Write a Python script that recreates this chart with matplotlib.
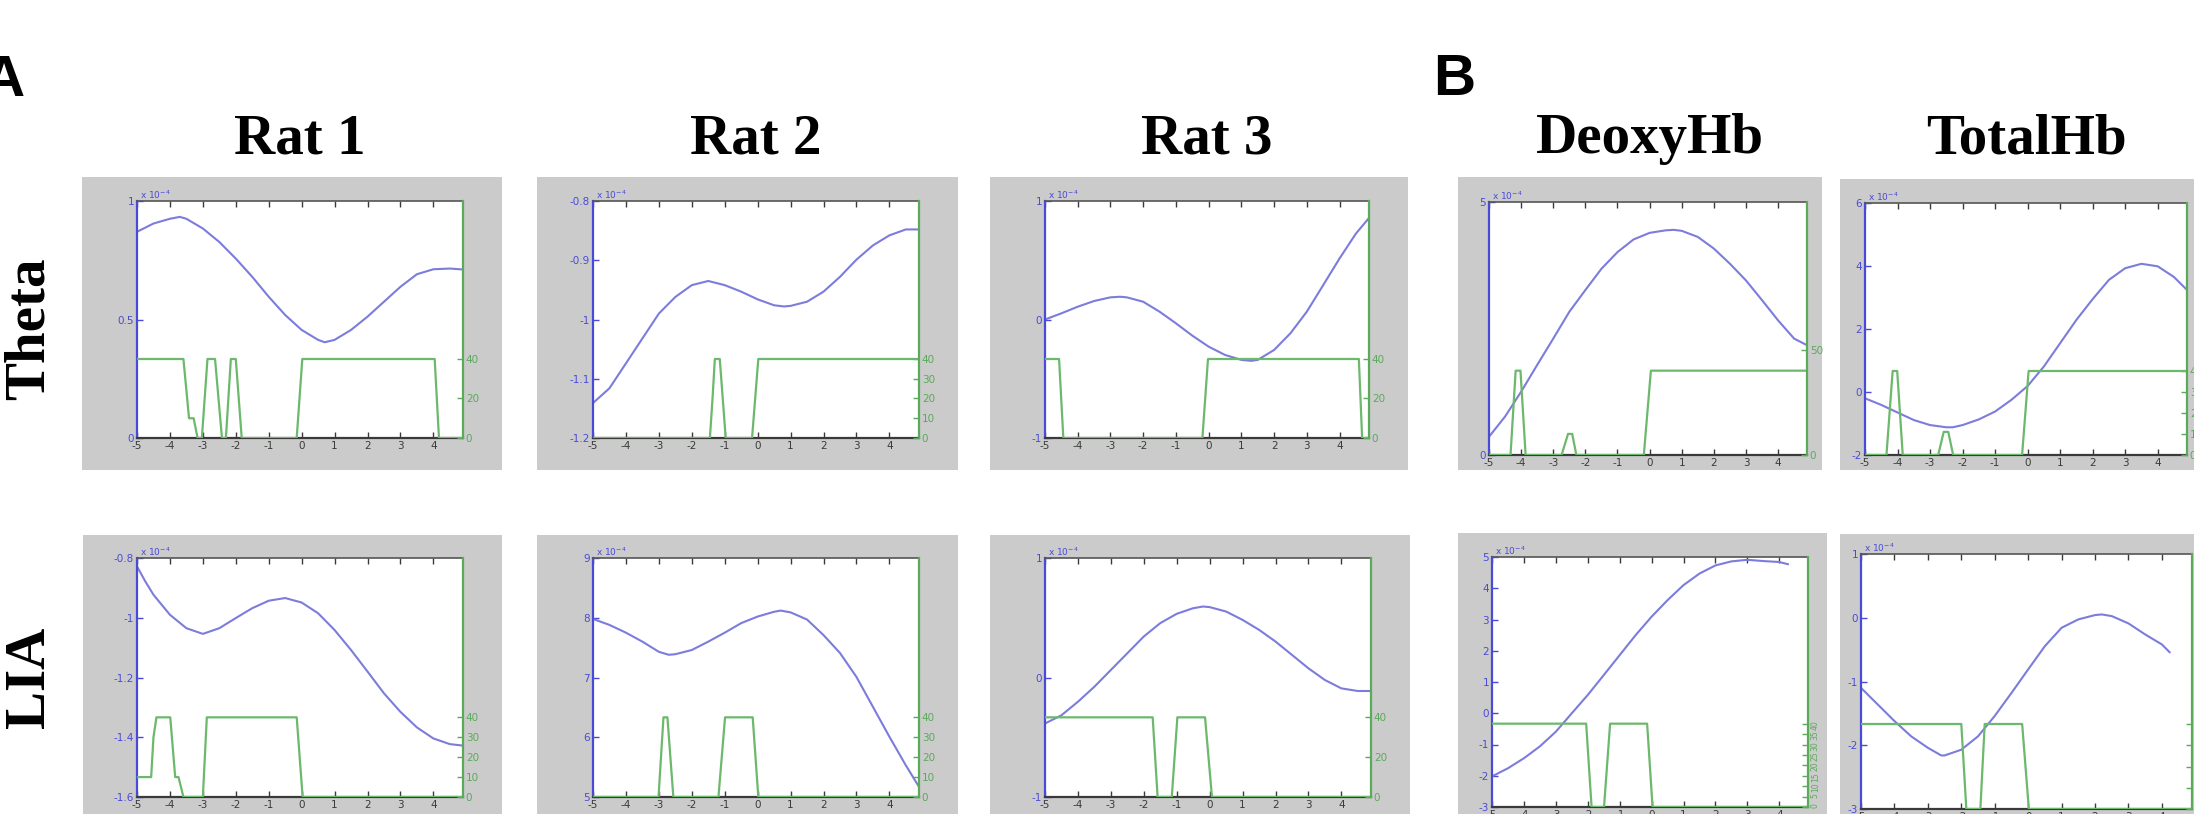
import matplotlib
matplotlib.use('Agg')
import matplotlib.pyplot as plt
from matplotlib.patches import Rectangle

plt.rcParams['axes.unicode_minus'] = False

W, H = 2194, 814

# ---- data (x in s, blue = left axis, green = right axis) ----
# Theta row
rat1_theta_x = [-5, -4.5, -4, -3.7, -3.5, -3, -2.5, -2, -1.5, -1, -0.5, 0, 0.5, 0.7, 1, 1.5, 2, 2.5, 3, 3.5, 4, 4.5, 4.9]
rat1_theta_y = [0.87, 0.905, 0.925, 0.933, 0.925, 0.884, 0.827, 0.757, 0.68, 0.596, 0.519, 0.456, 0.414, 0.404, 0.414,
                0.456, 0.512, 0.575, 0.638, 0.691, 0.712, 0.715, 0.711]
rat1_theta_gx = [-5, -3.59, -3.42, -3.28, -3.16, -3.03, -2.86, -2.63, -2.42, -2.3, -2.15, -2.0, -1.82, -0.15, 0.02, 4.04, 4.17, 4.9]
rat1_theta_gy = [40, 40, 10, 10, 0, 0, 40, 40, 0, 0, 40, 40, 0, 0, 40, 40, 0, 0]

rat2_theta_x = [-5, -4.5, -4, -3.5, -3, -2.5, -2, -1.5, -1, -0.5, 0, 0.5, 0.8, 1, 1.5, 2, 2.5, 3, 3.5, 4, 4.5, 4.9]
rat2_theta_y = [-1.141, -1.116, -1.074, -1.032, -0.990, -0.962, -0.942, -0.935, -0.942, -0.953, -0.966, -0.976, -0.978,
                -0.977, -0.970, -0.953, -0.928, -0.899, -0.875, -0.858, -0.848, -0.848]
rat2_theta_gx = [-5, -1.45, -1.37, -1.3, -1.15, -0.97, -0.17, 0.02, 4.9]
rat2_theta_gy = [0, 0, 20, 40, 40, 0, 0, 40, 40]

rat3_theta_x = [-5, -4.5, -4, -3.5, -3, -2.7, -2.5, -2, -1.5, -1, -0.5, 0, 0.5, 1, 1.3, 1.5, 2, 2.5, 3, 3.5, 4, 4.5, 4.9]
rat3_theta_y = [0.0, 0.052, 0.108, 0.156, 0.187, 0.192, 0.187, 0.150, 0.066, -0.032, -0.136, -0.229, -0.299, -0.341,
                -0.349, -0.341, -0.257, -0.116, 0.066, 0.290, 0.515, 0.725, 0.857]
rat3_theta_gx = [-5, -4.57, -4.44, -0.19, -0.02, 4.59, 4.69, 4.9]
rat3_theta_gy = [40, 40, 0, 0, 40, 40, 0, 0]

deoxy_theta_x = [-5, -4.5, -4, -3.5, -3, -2.5, -2, -1.5, -1, -0.5, 0, 0.5, 0.75, 1, 1.5, 2, 2.5, 3, 3.5, 4, 4.5, 4.9]
deoxy_theta_y = [0.36, 0.76, 1.25, 1.78, 2.30, 2.83, 3.26, 3.68, 4.01, 4.26, 4.39, 4.44, 4.45, 4.43, 4.31, 4.08, 3.78,
                 3.45, 3.06, 2.66, 2.30, 2.17]
deoxy_theta_gx = [-5, -4.33, -4.17, -4.02, -3.86, -2.74, -2.54, -2.41, -2.28, -0.18, 0.04, 4.9]
deoxy_theta_gy = [0, 0, 40, 40, 0, 0, 10, 10, 0, 0, 40, 40]

total_theta_x = [-5, -4.5, -4, -3.5, -3, -2.5, -2.3, -2, -1.5, -1, -0.5, 0, 0.5, 1, 1.5, 2, 2.5, 3, 3.5, 4, 4.5, 4.9]
total_theta_y = [-0.20, -0.41, -0.65, -0.89, -1.05, -1.12, -1.12, -1.05, -0.87, -0.62, -0.25, 0.19, 0.81, 1.55, 2.29,
                 2.95, 3.56, 3.93, 4.07, 3.99, 3.65, 3.24]
total_theta_gx = [-5, -4.34, -4.15, -4.01, -3.84, -2.75, -2.58, -2.44, -2.29, -0.17, 0.03, 4.9]
total_theta_gy = [0, 0, 40, 40, 0, 0, 11, 11, 0, 0, 40, 40]

# LIA row
rat1_lia_x = [-5, -4.75, -4.5, -4, -3.5, -3, -2.5, -2, -1.5, -1, -0.5, 0, 0.5, 1, 1.5, 2, 2.5, 3, 3.5, 4, 4.5, 4.9]
rat1_lia_y = [-0.828, -0.878, -0.923, -0.990, -1.035, -1.054, -1.035, -1.001, -0.968, -0.943, -0.934, -0.949, -0.985,
              -1.041, -1.108, -1.180, -1.253, -1.315, -1.367, -1.404, -1.423, -1.428]
rat1_lia_gx = [-5, -4.57, -4.5, -4.41, -3.99, -3.84, -3.74, -3.59, -3.0, -2.88, -0.15, 0.03, 4.9]
rat1_lia_gy = [10, 10, 30, 40, 40, 10, 10, 0, 0, 40, 40, 0, 0]

rat2_lia_x = [-5, -4.5, -4, -3.5, -3, -2.7, -2.5, -2, -1.5, -1, -0.5, 0, 0.5, 0.7, 1, 1.5, 2, 2.5, 3, 3.5, 4, 4.5, 4.9]
rat2_lia_y = [7.98, 7.88, 7.75, 7.60, 7.43, 7.38, 7.39, 7.46, 7.60, 7.75, 7.91, 8.02, 8.10, 8.12, 8.09, 7.97, 7.71,
              7.41, 7.01, 6.51, 6.01, 5.53, 5.17]
rat2_lia_gx = [-5, -3.01, -2.86, -2.74, -2.56, -1.19, -0.99, -0.15, 0.02, 4.9]
rat2_lia_gy = [0, 0, 40, 40, 0, 0, 40, 40, 0, 0]

rat3_lia_x = [-5, -4.5, -4, -3.5, -3, -2.5, -2, -1.5, -1, -0.5, -0.2, 0, 0.5, 1, 1.5, 2, 2.5, 3, 3.5, 4, 4.5, 4.9]
rat3_lia_y = [-0.385, -0.316, -0.203, -0.077, 0.063, 0.203, 0.343, 0.455, 0.533, 0.580, 0.594, 0.589, 0.552, 0.482,
              0.399, 0.301, 0.189, 0.077, -0.021, -0.091, -0.113, -0.113]
rat3_lia_gx = [-5, -1.73, -1.58, -1.15, -0.98, -0.14, 0.07, 4.9]
rat3_lia_gy = [40, 40, 0, 0, 40, 40, 0, 0]

deoxy_lia_x = [-5, -4.5, -4, -3.5, -3, -2.5, -2, -1.5, -1, -0.5, 0, 0.5, 1, 1.5, 2, 2.5, 3, 3.5, 4, 4.27]
deoxy_lia_y = [-2.02, -1.76, -1.44, -1.06, -0.59, 0.0, 0.585, 1.22, 1.86, 2.50, 3.09, 3.62, 4.10, 4.47, 4.73, 4.86,
               4.91, 4.87, 4.84, 4.77]
deoxy_lia_gx = [-5, -2.05, -1.88, -1.49, -1.30, -0.14, 0.03, 4.9]
deoxy_lia_gy = [40, 40, 0, 0, 40, 40, 0, 0]

total_lia_x = [-5, -4.5, -4, -3.5, -3, -2.6, -2.5, -2, -1.5, -1, -0.5, 0, 0.5, 1, 1.5, 2, 2.2, 2.5, 3, 3.5, 4, 4.23]
total_lia_y = [-1.10, -1.36, -1.62, -1.86, -2.04, -2.16, -2.16, -2.07, -1.86, -1.54, -1.18, -0.81, -0.445, -0.157,
               -0.026, 0.042, 0.052, 0.026, -0.089, -0.262, -0.419, -0.54]
total_lia_gx = [-5, -2.0, -1.85, -1.43, -1.30, -0.18, 0.02, 4.9]
total_lia_gy = [40, 40, 0, 0, 40, 40, 0, 0]

col_titles = ['Rat 1', 'Rat 2', 'Rat 3', 'DeoxyHb', 'TotalHb']
row_titles = ['Theta', 'LIA']
x_ticks = [-5, -4, -3, -2, -1, 0, 1, 2, 3, 4]

BLUE = '#4a4ad8'
BLUE_LINE = '#7c7cdc'
GREEN = '#5aaa5a'
GREEN_LINE = '#6cb86c'
GRAY = '#cbcbcb'
DARK = '#3a3a3a'

fig = plt.figure(figsize=(W / 100, H / 100), dpi=100)
fig.patch.set_facecolor('white')


def px_rect(l, t, r, b):
    return [l / W, 1 - b / H, (r - l) / W, (b - t) / H]


def panel(ax_px, box_px, bx, by, gx, gy, ylim, yticks, ylabels, rticks,
          rlabel_rot=0, rlabels=True):
    l, t, r, b = box_px
    fig.add_artist(Rectangle((l / W, 1 - b / H), (r - l) / W, (b - t) / H,
                             transform=fig.transFigure, facecolor=GRAY,
                             edgecolor='none', zorder=0))
    ax = fig.add_axes(px_rect(*ax_px))
    ax.set_facecolor('white')
    ax.plot(bx, by, color=BLUE_LINE, lw=1.5)
    ax.set_xlim(-5, 4.9)
    ax.set_ylim(*ylim)
    ax.set_xticks(x_ticks)
    ax.set_xticklabels([str(v) for v in x_ticks])
    ax.set_yticks(yticks)
    ax.set_yticklabels(ylabels)
    ax.tick_params(axis='x', direction='in', top=True, length=4, width=1,
                   labelsize=7.5, colors=DARK, pad=2)
    ax.tick_params(axis='y', direction='in', right=True, length=4, width=1,
                   labelsize=7.5, colors=BLUE, pad=2)
    ax.spines['left'].set_color(BLUE)
    ax.spines['left'].set_linewidth(1.6)
    ax.spines['bottom'].set_color(DARK)
    ax.spines['bottom'].set_linewidth(1.6)
    ax.spines['top'].set_color('#555555')
    ax.spines['top'].set_linewidth(1.2)
    ax.spines['right'].set_visible(False)
    ax.text(0.01, 1.0, r'x 10$^{-4}$', transform=ax.transAxes, fontsize=6.5,
            color=BLUE, ha='left', va='bottom')

    ax2 = ax.twinx()
    ax2.plot(gx, gy, color=GREEN_LINE, lw=1.6)
    ax2.set_ylim(0, 120)
    ax2.set_yticks(rticks)
    if rlabels:
        ax2.set_yticklabels([str(v) for v in rticks], rotation=rlabel_rot)
    else:
        ax2.set_yticklabels([])
    ax2.tick_params(axis='y', direction='in', length=4, width=1,
                    labelsize=7.5 if rlabel_rot == 0 else 5.5, colors=GREEN, pad=2)
    for s in ['left', 'top', 'bottom']:
        ax2.spines[s].set_visible(False)
    ax2.spines['right'].set_color(GREEN)
    ax2.spines['right'].set_linewidth(1.6)
    return ax


# Theta row
panel((137, 201, 463, 438), (82, 177, 502, 470), rat1_theta_x, rat1_theta_y, rat1_theta_gx, rat1_theta_gy,
      (0, 1), [0, 0.5, 1], ['0', '0.5', '1'], [0, 20, 40])
panel((593, 201, 919, 438), (537, 177, 958, 470), rat2_theta_x, rat2_theta_y, rat2_theta_gx, rat2_theta_gy,
      (-1.2, -0.8), [-1.2, -1.1, -1.0, -0.9, -0.8], ['-1.2', '-1.1', '-1', '-0.9', '-0.8'], [0, 10, 20, 30, 40])
panel((1045, 201, 1369, 438), (990, 177, 1408, 470), rat3_theta_x, rat3_theta_y, rat3_theta_gx, rat3_theta_gy,
      (-1, 1), [-1, 0, 1], ['-1', '0', '1'], [0, 20, 40])
panel((1489, 202, 1807, 455), (1458, 177, 1822, 470), deoxy_theta_x, deoxy_theta_y, deoxy_theta_gx, deoxy_theta_gy,
      (0, 5), [0, 5], ['0', '5'], [0, 50])
panel((1865, 203, 2187, 455), (1840, 179, 2200, 470), total_theta_x, total_theta_y, total_theta_gx, total_theta_gy,
      (-2, 6), [-2, 0, 2, 4, 6], ['-2', '0', '2', '4', '6'], [0, 10, 20, 30, 40])

# LIA row
panel((137, 558, 463, 797), (83, 535, 502, 830), rat1_lia_x, rat1_lia_y, rat1_lia_gx, rat1_lia_gy,
      (-1.6, -0.8), [-1.6, -1.4, -1.2, -1.0, -0.8], ['-1.6', '-1.4', '-1.2', '-1', '-0.8'], [0, 10, 20, 30, 40])
panel((593, 558, 919, 797), (537, 535, 958, 830), rat2_lia_x, rat2_lia_y, rat2_lia_gx, rat2_lia_gy,
      (5, 9), [5, 6, 7, 8, 9], ['5', '6', '7', '8', '9'], [0, 10, 20, 30, 40])
panel((1045, 558, 1371, 797), (990, 535, 1410, 830), rat3_lia_x, rat3_lia_y, rat3_lia_gx, rat3_lia_gy,
      (-1, 1), [-1, 0, 1], ['-1', '0', '1'], [0, 20, 40])
panel((1492, 557, 1808, 807), (1458, 533, 1827, 830), deoxy_lia_x, deoxy_lia_y, deoxy_lia_gx, deoxy_lia_gy,
      (-3, 5), list(range(-3, 6)), [str(v) for v in range(-3, 6)], list(range(0, 45, 5)), rlabel_rot=90)
# right-axis labels of this panel fall outside the picture in the original
panel((1861, 554, 2192, 809), (1840, 534, 2200, 830), total_lia_x, total_lia_y, total_lia_gx, total_lia_gy,
      (-3, 1), [-3, -2, -1, 0, 1], ['-3', '-2', '-1', '0', '1'], [0, 10, 20, 30, 40], rlabels=False)

# titles
serif = ['Liberation Serif', 'DejaVu Serif']
col_centers = [300, 756, 1207, 1650, 2026]
for name, cx in zip(col_titles, col_centers):
    fig.text(cx / W, 1 - 153 / H, name, ha='center', va='baseline',
             fontsize=41, fontweight='bold', family=serif)
for name, cy in zip(row_titles, [329, 677]):
    fig.text(30 / W, 1 - cy / H, name, ha='center', va='center', rotation=90,
             fontsize=41, fontweight='bold', family=serif)

sans = ['Liberation Sans', 'DejaVu Sans']
fig.text(-17 / W, 1 - 96 / H, 'A', ha='left', va='baseline', fontsize=42,
         fontweight='bold', family=sans)
fig.text(1433 / W, 1 - 95 / H, 'B', ha='left', va='baseline', fontsize=42,
         fontweight='bold', family=sans)

fig.savefig('out.png', dpi=100, facecolor='white')
